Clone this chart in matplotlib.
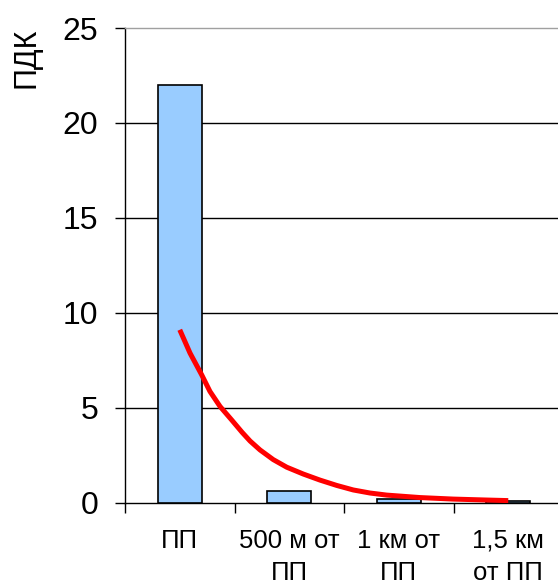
import matplotlib
matplotlib.use("Agg")
import matplotlib.pyplot as plt
from matplotlib.ticker import FixedLocator, NullFormatter, FixedFormatter

plt.rcParams["font.family"] = ["Liberation Sans", "DejaVu Sans"]

# Measured concentrations, in units of ПДК
categories = ["ПП", "500 м от\nПП", "1 км от\nПП", "1,5 км\nот ПП"]
pdk_values = [22.0, 0.6, 0.2, 0.07]

# Exponential trend line, sampled along the category axis
trend_x = [0.0, 0.094, 0.20, 0.276, 0.368, 0.474, 0.569, 0.642, 0.733, 0.854,
           0.977, 1.128, 1.281, 1.433, 1.585, 1.737, 1.89, 2.194, 2.498, 2.803, 3.0]
trend_y = [9.10, 7.87, 6.73, 5.85, 5.06, 4.35, 3.70, 3.24, 2.77, 2.26,
           1.86, 1.50, 1.18, 0.90, 0.66, 0.50, 0.39, 0.26, 0.18, 0.13, 0.10]

y_ticks = [0, 5, 10, 15, 20, 25]

W, H = 558, 585
fig = plt.figure(figsize=(W / 100, H / 100), dpi=100)
ax_left, ax_bottom, ax_top = 125, 502.5, 28
cat_w = 109.5
ax = fig.add_axes([ax_left / W, (H - ax_bottom) / H,
                   4 * cat_w / W, (ax_bottom - ax_top) / H])

positions = list(range(len(categories)))
ax.bar(positions, pdk_values, width=0.4, color="#99CCFF",
       edgecolor="black", linewidth=1.2, zorder=3)
ax.plot(trend_x, trend_y, color="#FF0000", linewidth=3.6,
        solid_capstyle="butt", solid_joinstyle="round", zorder=4)

ax.set_xlim(-0.5, len(categories) - 0.5)
ax.set_ylim(0, 25)

# horizontal grid
for v in y_ticks[1:-1]:
    ax.axhline(v, color="black", linewidth=1.0, zorder=1)

ax.set_yticks(y_ticks)
ax.tick_params(axis="y", direction="out", length=7.2, width=1.0,
               pad=12, labelsize=23, colors="black")

# category boundaries carry the tick marks, labels sit at the centers
ax.xaxis.set_major_locator(FixedLocator([-0.5, 0.5, 1.5, 2.5]))
ax.xaxis.set_major_formatter(NullFormatter())
ax.xaxis.set_minor_locator(FixedLocator(positions))
ax.xaxis.set_minor_formatter(FixedFormatter(categories))
ax.tick_params(axis="x", which="major", direction="out", length=7.2, width=1.0)
ax.tick_params(axis="x", which="minor", length=0, pad=19, labelsize=18.5)
for lbl in ax.xaxis.get_minorticklabels():
    lbl.set_linespacing(1.42)

ax.spines["left"].set_color("black")
ax.spines["bottom"].set_color("black")
ax.spines["left"].set_linewidth(1.0)
ax.spines["bottom"].set_linewidth(1.0)
ax.spines["top"].set_color("#A0A0A0")
ax.spines["top"].set_linewidth(1.0)
ax.spines["right"].set_visible(False)

fig.text(27 / W, 1 - 58 / H, "ПДК", rotation=90, fontsize=22,
         ha="center", va="center")

fig.savefig("out.png", dpi=100, facecolor="white")
